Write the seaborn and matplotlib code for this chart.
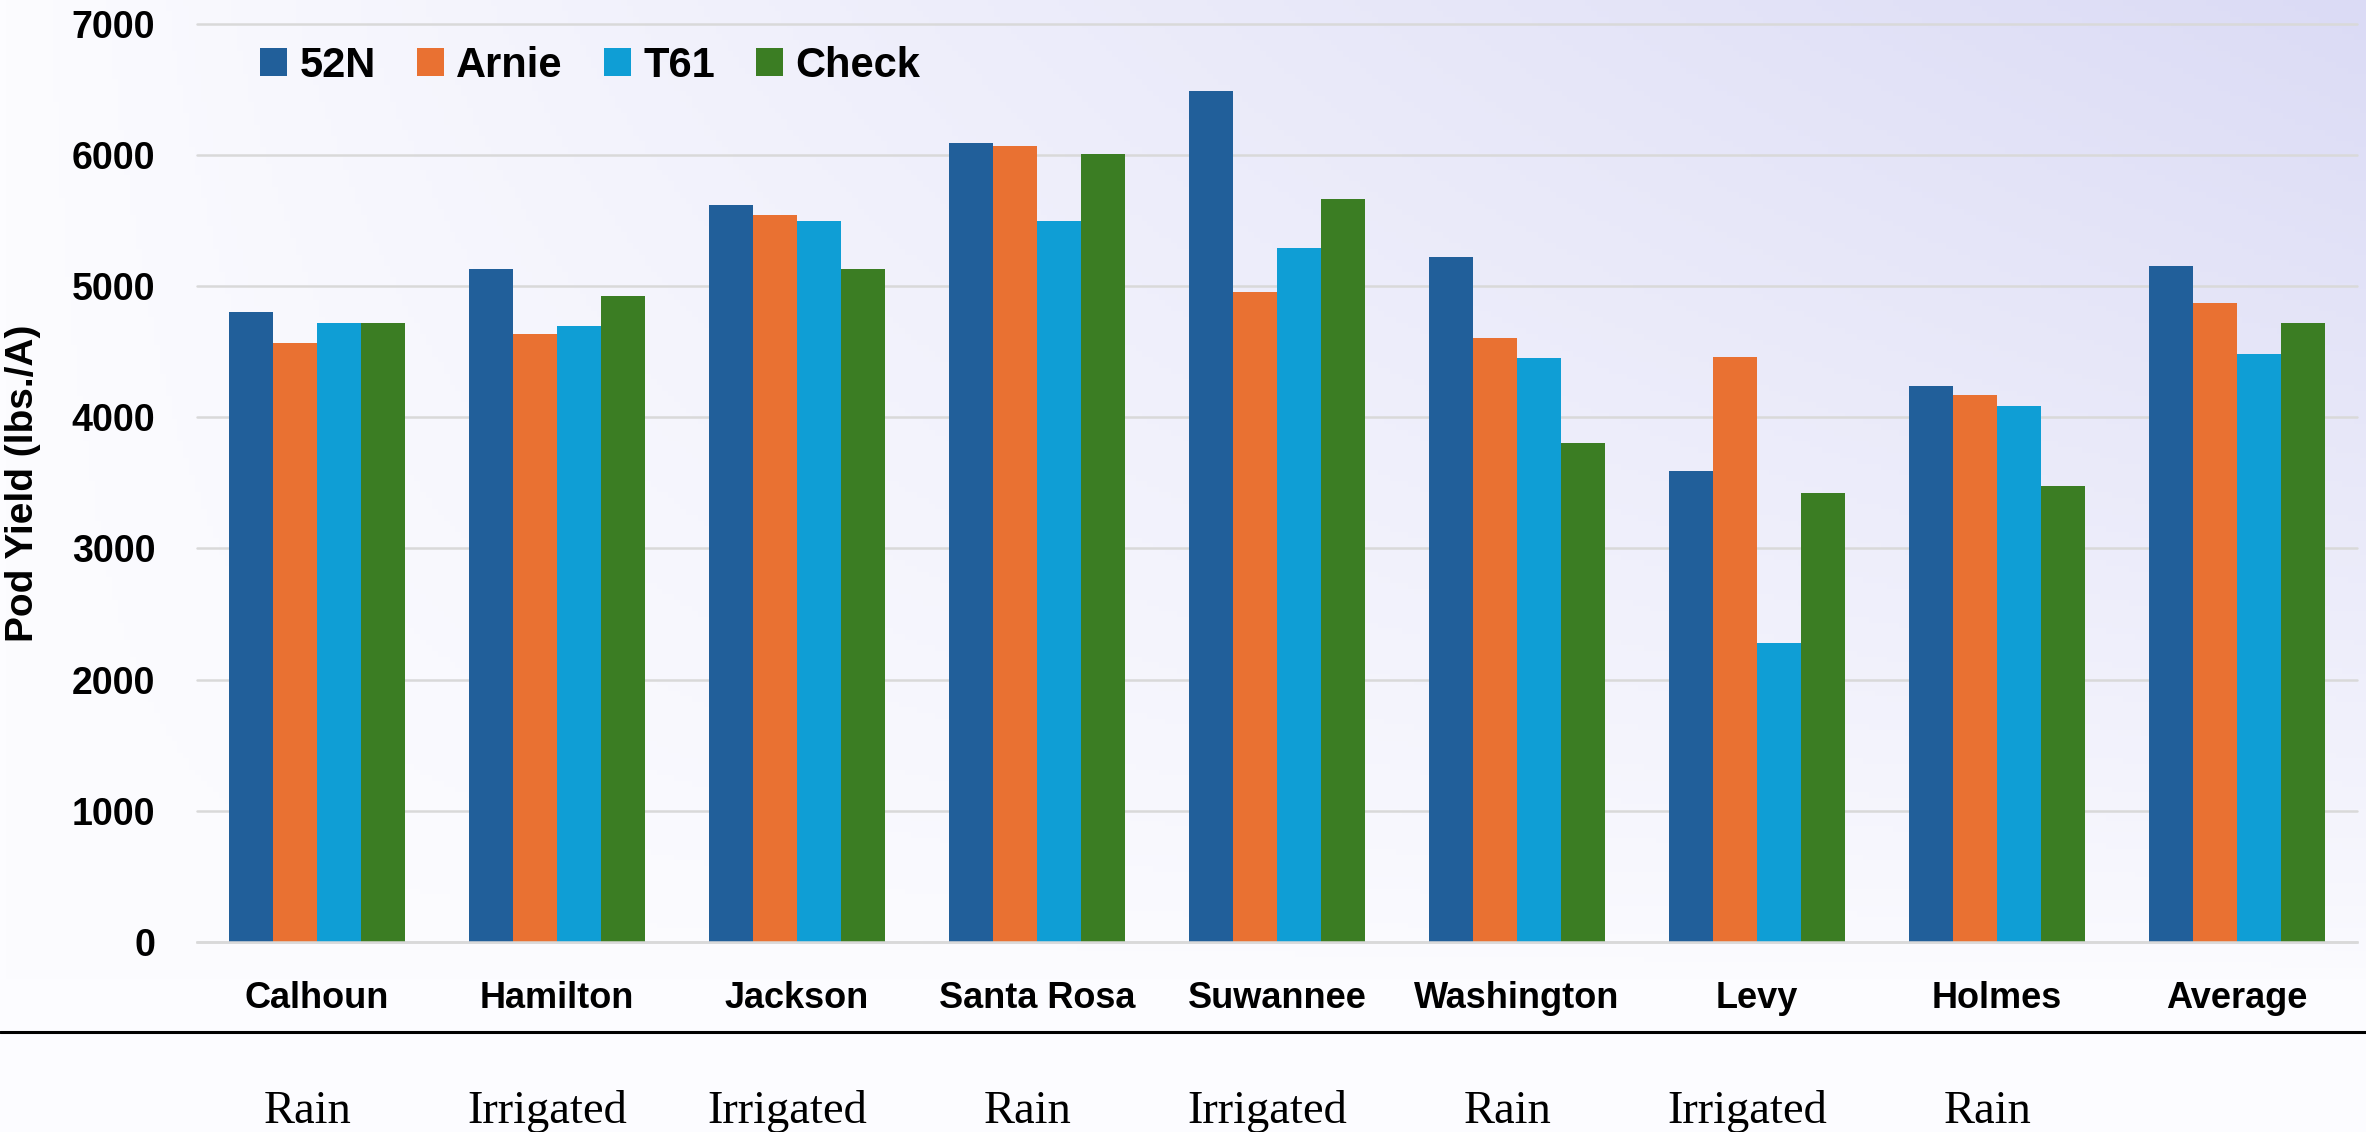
import numpy as np
import pandas as pd
import matplotlib
matplotlib.use("Agg")
import matplotlib.pyplot as plt
import seaborn as sns
from matplotlib.transforms import blended_transform_factory

# data
locations = ["Calhoun", "Hamilton", "Jackson", "Santa Rosa", "Suwannee",
             "Washington", "Levy", "Holmes", "Average"]
water = ["Rain", "Irrigated", "Irrigated", "Rain", "Irrigated",
         "Rain", "Irrigated", "Rain"]
varieties = ["52N", "Arnie", "T61", "Check"]
y_52n = [4800, 5130, 5620, 6095, 6490, 5225, 3590, 4240, 5153]
y_arnie = [4567, 4635, 5540, 6067, 4953, 4605, 4460, 4173, 4875]
y_t61 = [4719, 4699, 5495, 5495, 5289, 4450, 2280, 4084, 4486]
y_check = [4719, 4928, 5129, 6006, 5665, 3801, 3425, 3478, 4720]
yticks = [0, 1000, 2000, 3000, 4000, 5000, 6000, 7000]

colors = ["#215F9A", "#E97132", "#0F9ED5", "#3B7D23"]

df = pd.DataFrame({
    "Location": locations * 4,
    "Variety": np.repeat(varieties, len(locations)),
    "Yield": y_52n + y_arnie + y_t61 + y_check,
})

sns.set_style("white")
plt.rcParams["font.family"] = ["Liberation Sans", "DejaVu Sans"]
plt.rcParams["font.weight"] = "bold"
plt.rcParams["text.color"] = "black"
plt.rcParams["axes.labelcolor"] = "black"
plt.rcParams["xtick.color"] = "black"
plt.rcParams["ytick.color"] = "black"

fig = plt.figure(figsize=(23.66, 11.32), dpi=100)
fig.patch.set_facecolor("white")

# soft lavender gradient behind everything
bg = fig.add_axes([0, 0, 1, 1], zorder=-10)
gx, gy = np.meshgrid(np.linspace(0, 1, 400), np.linspace(0, 1, 200))
t = gx ** 0.9 * np.clip(1 - gy * 1132 / 980, 0, 1) ** 0.8
c0 = np.array([252, 252, 255]) / 255
c1 = np.array([219, 219, 245]) / 255
img = c0 + (c1 - c0) * t[..., None]
bg.imshow(img, aspect="auto", extent=[0, 1, 1, 0])
bg.set_axis_off()

ax = fig.add_axes([197 / 2366, 1 - 941.7 / 1132, 2160 / 2366, 917.7 / 1132])
ax.set_facecolor("none")

sns.barplot(data=df, x="Location", y="Yield", hue="Variety", palette=colors,
            width=0.73, gap=0, linewidth=0, saturation=1, ax=ax, legend=True)

ax.set_xlim(-0.5, len(locations) - 0.5)
ax.set_ylim(0, 7000)
ax.set_yticks(yticks)
ax.set_yticklabels([str(v) for v in yticks], fontsize=27, fontweight="bold")
ax.set_xticks(range(len(locations)))
ax.set_xticklabels(locations, fontsize=26, fontweight="bold")
ax.tick_params(axis="y", length=0, pad=30)
ax.tick_params(axis="x", length=0, pad=28)
ax.set_xlabel("")
ax.set_ylabel("Pod Yield (lbs./A)", fontsize=28, fontweight="bold", labelpad=22)

ax.set_axisbelow(True)
ax.grid(axis="y", color="#D9D9D9", linewidth=1.8)
for gl in ax.get_ygridlines():
    gl.set_clip_on(False)
for s in ["top", "right", "left"]:
    ax.spines[s].set_visible(False)
ax.spines["bottom"].set_color("#D9D9D9")
ax.spines["bottom"].set_linewidth(1.8)

leg = ax.legend(loc="center left", bbox_to_anchor=(260 / 2366, 1 - 66 / 1132),
                bbox_transform=fig.transFigure, ncol=4, frameon=False,
                handlelength=0.65, handleheight=0.65,
                handletextpad=0.3, columnspacing=0.98, borderpad=0,
                borderaxespad=0, prop={"weight": "bold", "size": 30})
for txt in leg.get_texts():
    txt.set_color("black")

# separator line and irrigation row
fig.add_artist(plt.Line2D([0, 1], [1 - 1032 / 1132, 1 - 1032 / 1132],
                          color="black", linewidth=2.2))
trans = blended_transform_factory(ax.transData, fig.transFigure)
for i, w in enumerate(water):
    ax.text(i - 0.04, 1 - 1123 / 1132, w, transform=trans, ha="center",
            va="baseline", fontsize=33.5, fontweight="normal", color="black",
            family=["Liberation Serif", "DejaVu Serif"])

fig.savefig("out.png", dpi=100)
